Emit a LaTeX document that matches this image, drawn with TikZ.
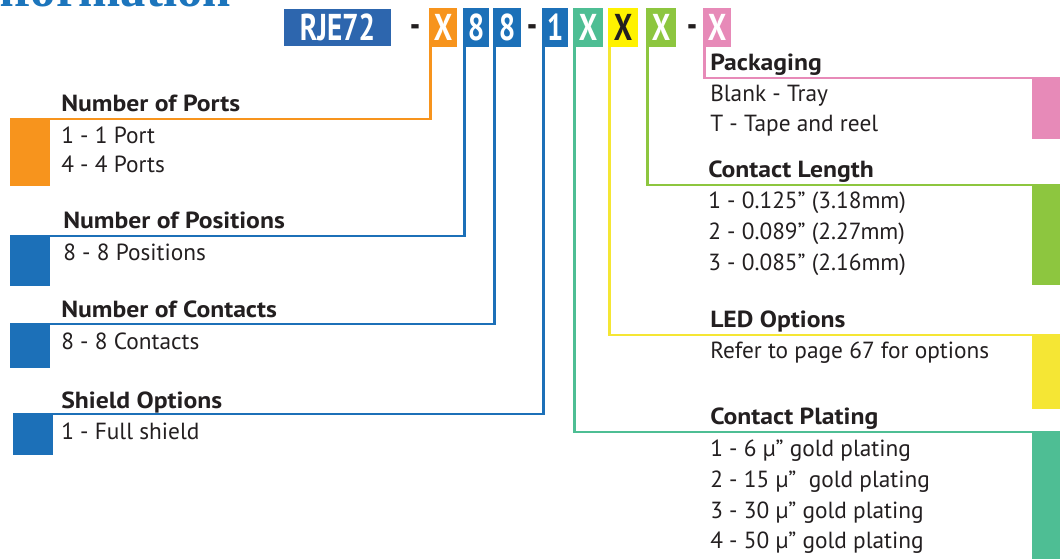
\documentclass[tikz,border=0pt]{standalone}
\usepackage{fontspec}
\setmainfont{PT Sans}
\newfontfamily\condfont{PT Sans}[FakeStretch=0.78]
\newfontfamily\headfont{PT Sans}[FakeStretch=1.1]
\newfontfamily\titlefont{Liberation Serif}
\definecolor{cOrange}{HTML}{F7941D}
\definecolor{cBlue}{HTML}{1C70B8}
\definecolor{cBoxBlue}{HTML}{2D66AE}
\definecolor{cTeal}{HTML}{4EBE94}
\definecolor{cYellow}{HTML}{FFF200}
\definecolor{cYellowB}{HTML}{F5E634}
\definecolor{cGreen}{HTML}{8DC63F}
\definecolor{cPink}{HTML}{E78AB8}
\definecolor{cText}{HTML}{231F20}
\definecolor{cTitle}{HTML}{1C75BC}
\tikzset{
  pbox/.style={inner sep=0, outer sep=0, minimum height=29.25pt, text=white,
    font=\condfont\bfseries\fontsize{28}{28}\selectfont},
  dashtxt/.style={anchor=base, inner sep=0, text=cText, font=\condfont\bfseries\fontsize{28}{28}\selectfont},
  blk/.style={inner sep=0, outer sep=0, anchor=north west},
  conn/.style={line width=1.9pt},
  head/.style={anchor=base west, inner sep=0, text=cText, font=\headfont\bfseries\fontsize{17.5}{19}\selectfont},
  item/.style={anchor=base west, inner sep=0, text=cText, font=\fontsize{17.5}{19}\selectfont},
}
\begin{document}
\begin{tikzpicture}[x=0.75pt,y=-0.75pt]
\useasboundingbox (0,0) rectangle (1060,559);
\clip (0,0) rectangle (1060,559);

% title (cut off)
\node[anchor=base east, inner sep=0, text=cTitle, font=\titlefont\bfseries\fontsize{38}{38}\selectfont] (title) at (231,7) {Information};

% part number boxes
\node[pbox, fill=cBoxBlue, minimum width=80.25pt, minimum height=27.75pt] (rje) at (337.5,27.5) {RJE72};
\node[dashtxt] (d1) at (415,38) {-};
\node[pbox, fill=cOrange, minimum width=21pt] (bx1) at (443,27.5) {X};
\node[pbox, fill=cBlue, minimum width=19.5pt] (bx2) at (476,27.5) {8};
\node[pbox, fill=cBlue, minimum width=21pt] (bx3) at (507,27.5) {8};
\node[dashtxt] (d2) at (532,38) {-};
\node[pbox, fill=cBlue, minimum width=19.5pt] (bx4) at (555,27.5) {1};
\node[pbox, fill=cTeal, minimum width=22.5pt] (bx5) at (588,27.5) {X};
\node[pbox, fill=cYellow, minimum width=22.5pt, text=cText] (bx6) at (623,27.5) {X};
\node[pbox, fill=cGreen, minimum width=22.5pt] (bx7) at (661,27.5) {X};
\node[dashtxt] (d3) at (692,38) {-};
\node[pbox, fill=cPink, minimum width=21pt] (bx8) at (717,27.5) {X};

% colour blocks
\node[blk, fill=cOrange, minimum width=30pt, minimum height=50.25pt] (kPorts) at (10,119) {};
\node[blk, fill=cBlue, minimum width=30pt, minimum height=37.5pt] (kPos) at (10,236) {};
\node[blk, fill=cBlue, minimum width=30pt, minimum height=33pt] (kCont) at (10,324) {};
\node[blk, fill=cBlue, minimum width=30pt, minimum height=30.75pt] (kShield) at (13,414) {};
\node[blk, anchor=north east, fill=cPink, minimum width=21pt, minimum height=45.75pt] (kPack) at (1060,78) {};
\node[blk, anchor=north east, fill=cGreen, minimum width=21pt, minimum height=75pt] (kLen) at (1060,185) {};
\node[blk, anchor=north east, fill=cYellowB, minimum width=21pt, minimum height=55.5pt] (kLed) at (1060,335) {};
\node[blk, anchor=north east, fill=cTeal, minimum width=21pt, minimum height=95.25pt] (kPlat) at (1060,432) {};

% connectors
\draw[conn, cOrange] ([xshift=1.2pt]bx1.south west) |- (kPorts.north west);
\draw[conn, cBlue] ([xshift=1.2pt]bx2.south west) |- (kPos.north west);
\draw[conn, cBlue] ([xshift=1.2pt]bx3.south west) |- (kCont.north west);
\draw[conn, cBlue] ([xshift=1.2pt]bx4.south west) |- (kShield.north west);
\draw[conn, cTeal] ([xshift=1.2pt]bx5.south west) |- (kPlat.north east);
\draw[conn, cYellowB] ([xshift=1.2pt]bx6.south west) |- (kLed.north east);
\draw[conn, cGreen] ([xshift=1.2pt]bx7.south west) |- (kLen.north east);
\draw[conn, cPink] ([xshift=1.2pt]bx8.south west) |- (kPack.north east);

% left texts
\node[head] (hPorts) at (61,112) {Number of Ports};
\node[item] (iPorts1) at (61,144) {1 - 1 Port};
\node[item] (iPorts2) at (61,173) {4 - 4 Ports};
\node[head] (hPos) at (63,229) {Number of Positions};
\node[item] (iPos1) at (63,261) {8 - 8 Positions};
\node[head] (hCont) at (61,318) {Number of Contacts};
\node[item] (iCont1) at (61,350) {8 - 8 Contacts};
\node[head] (hShield) at (61,408) {Shield Options};
\node[item] (iShield1) at (61,439) {1 - Full shield};

% right texts
\node[head] (hPack) at (710,71) {Packaging};
\node[item] (iPack1) at (710,102) {Blank - Tray};
\node[item] (iPack2) at (710,132) {T - Tape and reel};
\node[head] (hLen) at (708,178) {Contact Length};
\node[item] (iLen1) at (708,209) {1 - 0.125” (3.18mm)};
\node[item] (iLen2) at (708,240) {2 - 0.089” (2.27mm)};
\node[item] (iLen3) at (708,271) {3 - 0.085” (2.16mm)};
\node[head] (hLed) at (710,328) {LED Options};
\node[item] (iLed1) at (710,359) {Refer to page 67 for options};
\node[head] (hPlat) at (710,425) {Contact Plating};
\node[item] (iPlat1) at (710,456) {1 - 6 µ” gold plating};
\node[item] (iPlat2) at (710,487) {2 - 15 µ”\ \ gold plating};
\node[item] (iPlat3) at (710,518) {3 - 30 µ” gold plating};
\node[item] (iPlat4) at (710,548) {4 - 50 µ” gold plating};
\end{tikzpicture}
\end{document}
